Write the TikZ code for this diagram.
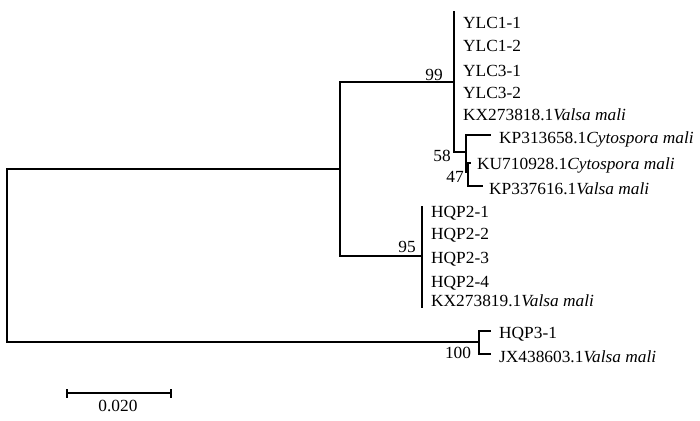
\documentclass[tikz,border=0pt]{standalone}
\usepackage{fontspec}
\setmainfont{Liberation Serif}[FakeStretch=1.02]
\newcommand\lbl{\fontsize{17}{20}\selectfont}
\tikzset{
  br/.style={line width=1.9pt, line join=miter, line cap=rect},
  leaf/.style={anchor=base west, inner sep=0pt, font=\lbl},
  boot/.style={anchor=base, inner sep=0pt, font=\lbl}
}
\begin{document}
\begin{tikzpicture}[x=1pt,y=-1pt]
\useasboundingbox[fill=white] (0,0) rectangle (700,420);
% coordinates of tree
\coordinate (rt) at (7,169);
\coordinate (rb) at (7,342);
\coordinate (a) at (340,169);
\coordinate (at) at (340,82);
\coordinate (ab) at (340,256);
\coordinate (b) at (454,82);
\coordinate (bt) at (454,12);
\coordinate (bb) at (454,152);
\coordinate (c) at (466,152);
\coordinate (ct) at (466,135);
\coordinate (cb) at (466,172);
\coordinate (l1) at (490,135);
\coordinate (d) at (468,172);
\coordinate (dt) at (468,163);
\coordinate (db) at (468,186);
\coordinate (l2) at (470,163);
\coordinate (l3) at (482,186);
\coordinate (e) at (422,256);
\coordinate (et) at (422,207);
\coordinate (eb) at (422,307);
\coordinate (f) at (479,342);
\coordinate (ft) at (479,331);
\coordinate (fb) at (479,354);
\coordinate (l4) at (490,331);
\coordinate (l5) at (490,354);
% branches
\draw[br] (a) -- (rt) -- (rb) -- (f);
\draw[br] (at) -- (ab);
\draw[br] (at) -- (b);
\draw[br] (bt) -- (bb) -- (c);
\draw[br] (l1) -- (ct) -- (cb) -- (d);
\draw[br] (l2) -- (dt) -- (db) -- (l3);
\draw[br] (ab) -- (e);
\draw[br] (et) -- (eb);
\draw[br] (l4) -- (ft) -- (fb) -- (l5);
% leaf labels
\node[leaf] (t1) at (463,28.5) {YLC1-1};
\node[leaf] (t2) at (463,52) {YLC1-2};
\node[leaf] (t3) at (463,76) {YLC3-1};
\node[leaf] (t4) at (463,98.5) {YLC3-2};
\node[leaf] (t5) at (463,120.5) {KX273818.1\textit{Valsa mali}};
\node[leaf] (t6) at (499,143.5) {KP313658.1\textit{Cytospora mali}};
\node[leaf] (t7) at (477,169.5) {KU710928.1\textit{Cytospora mali}};
\node[leaf] (t8) at (489,194) {KP337616.1\textit{Valsa mali}};
\node[leaf] (t9) at (431,217.5) {HQP2-1};
\node[leaf] (t10) at (431,239.5) {HQP2-2};
\node[leaf] (t11) at (431,263.5) {HQP2-3};
\node[leaf] (t12) at (431,287.5) {HQP2-4};
\node[leaf] (t13) at (431,306.5) {KX273819.1\textit{Valsa mali}};
\node[leaf] (t14) at (499,338.5) {HQP3-1};
\node[leaf] (t15) at (499,362.5) {JX438603.1\textit{Valsa mali}};
% bootstrap values
\node[boot] (n99) at (434,80.5) {99};
\node[boot] (n58) at (442,161.5) {58};
\node[boot] (n47) at (455,182.5) {47};
\node[boot] (n95) at (407,252.5) {95};
\node[boot] (n100) at (458,358.5) {100};
% scale bar
\coordinate (s1) at (67,393);
\coordinate (s2) at (171,393);
\draw[br, line cap=butt] (s1) -- (s2);
\draw[br, line cap=butt] ([yshift=-4.5pt]s1) -- ([yshift=4.5pt]s1);
\draw[br, line cap=butt] ([yshift=-4.5pt]s2) -- ([yshift=4.5pt]s2);
\node[boot] (sl) at (118,411.5) {0.020};
\end{tikzpicture}
\end{document}
